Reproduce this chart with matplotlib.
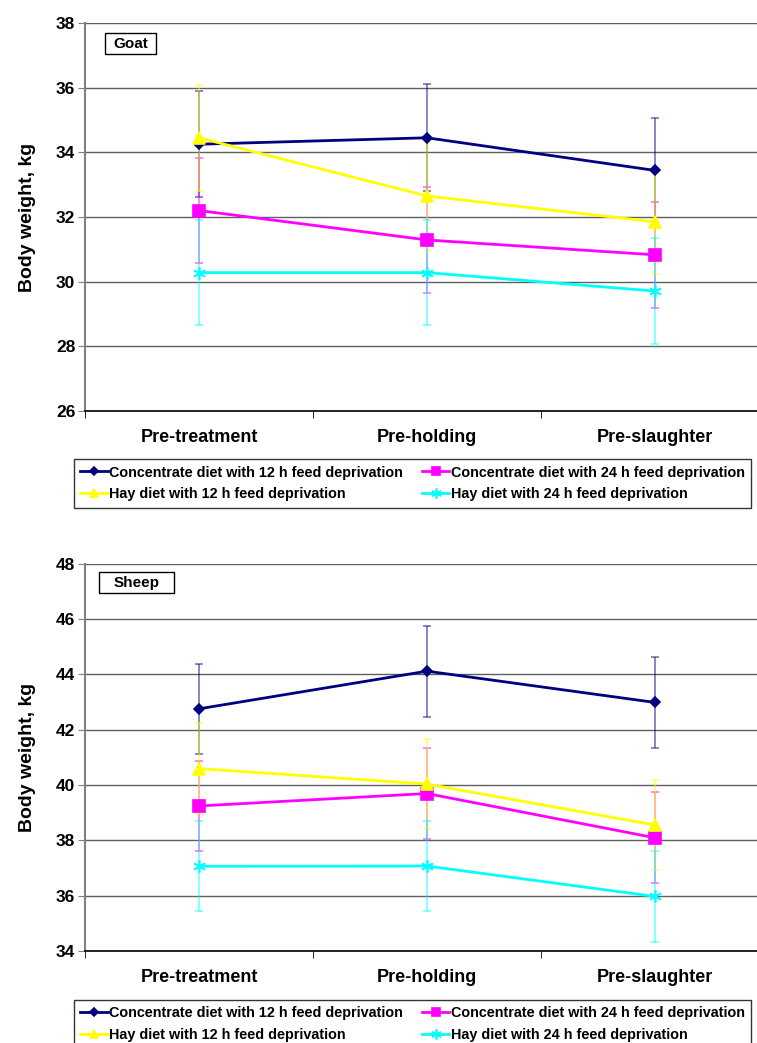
import matplotlib.pyplot as plt
from matplotlib.patches import Rectangle
import numpy as np

# data
stages = ['Pre-treatment', 'Pre-holding', 'Pre-slaughter']
series_names = ['Concentrate diet with 12 h feed deprivation',
                'Concentrate diet with 24 h feed deprivation',
                'Hay diet with 12 h feed deprivation',
                'Hay diet with 24 h feed deprivation']

goat_conc12 = [34.25, 34.45, 33.44]
goat_conc24 = [32.20, 31.29, 30.83]
goat_hay12 = [34.45, 32.65, 31.85]
goat_hay24 = [30.28, 30.28, 29.71]
goat_conc12_sd = [1.64, 1.65, 1.63]
goat_conc24_sd = [1.63, 1.64, 1.63]
goat_hay12_sd = [1.64, 1.66, 1.61]
goat_hay24_sd = [1.63, 1.63, 1.63]

sheep_conc12 = [42.75, 44.11, 42.98]
sheep_conc24 = [39.24, 39.69, 38.09]
sheep_hay12 = [40.59, 40.03, 38.55]
sheep_hay24 = [37.06, 37.07, 35.97]
sheep_conc12_sd = [1.63, 1.65, 1.64]
sheep_conc24_sd = [1.64, 1.65, 1.64]
sheep_hay12_sd = [1.64, 1.64, 1.63]
sheep_hay24_sd = [1.63, 1.64, 1.64]

colors = ['#000080', '#ff00ff', '#ffff00', '#00ffff']
markers = ['D', 's', '^', (6, 2, 0)]
msizes = [5, 8, 8, 9]

W, H = 757, 1043
fig = plt.figure(figsize=(W / 100, H / 100), dpi=100)
plt.rcParams['font.family'] = ['Liberation Sans', 'DejaVu Sans']


def panel(rect, means, sds, ylim, title, box_px, leg_y):
    ax = fig.add_axes(rect)
    x = np.arange(len(stages))
    handles = []
    for i in range(4):
        ax.errorbar(x, means[i], yerr=sds[i], fmt='none', ecolor=colors[i],
                    alpha=0.55, elinewidth=1.2, capsize=3, capthick=1.2, zorder=2)
    for i in range(4):
        h, = ax.plot(x, means[i], color=colors[i], lw=2, marker=markers[i],
                     ms=msizes[i], mec=colors[i], mew=1.2, zorder=3,
                     label=series_names[i])
        handles.append(h)
    ax.set_xlim(-0.5, 2.5)
    ax.set_ylim(*ylim)
    ax.set_yticks(np.arange(ylim[0], ylim[1] + 0.1, 2))
    ax.yaxis.grid(True, color='#606060', lw=1)
    ax.set_axisbelow(True)
    ax.set_xticks(x)
    ax.set_xticklabels(stages, fontsize=13, fontweight='bold')
    ax.set_xticks([-0.5, 0.5, 1.5, 2.5], minor=True)
    ax.tick_params(axis='x', which='major', length=0, pad=13)
    ax.tick_params(axis='x', which='minor', length=5, direction='out', color='black')
    ax.tick_params(axis='y', length=5, direction='out', color='#808080',
                   labelsize=12.5, pad=2)
    for lab in ax.get_yticklabels():
        lab.set_fontweight('bold')
    ax.spines['top'].set_visible(False)
    ax.spines['right'].set_visible(False)
    ax.spines['left'].set_color('#808080')
    ax.spines['left'].set_linewidth(1.5)
    ax.spines['bottom'].set_color('black')
    ax.spines['bottom'].set_linewidth(1.2)
    ax.set_ylabel('Body weight, kg', fontsize=14, fontweight='bold', labelpad=14)

    # label box in the corner
    x0, y0, x1, y1 = box_px
    fig.patches.append(Rectangle((x0 / W, 1 - y1 / H), (x1 - x0) / W, (y1 - y0) / H,
                                 transform=fig.transFigure, fc='white', ec='black',
                                 lw=1, zorder=5))
    fig.text((x0 + x1) / 2 / W, 1 - (y0 + y1) / 2 / H, title, fontsize=11,
             fontweight='bold', ha='center', va='center', zorder=6)

    # row-wise legend order like the original
    order = [0, 2, 1, 3]
    leg = fig.legend(handles=[handles[k] for k in order], loc='upper center',
                     bbox_to_anchor=(0.545, leg_y), ncol=2,
                     prop={'weight': 'bold', 'size': 10.4}, frameon=True,
                     fancybox=False, edgecolor='black', handlelength=1.9,
                     handletextpad=0.1, columnspacing=1.3, borderpad=0.45,
                     labelspacing=0.55, borderaxespad=0)
    leg.get_frame().set_linewidth(1)
    for lh in leg.legend_handles:
        lh.set_markersize(lh.get_markersize() * 0.8)
    return ax


left = 85 / W
width = 684 / W
panel([left, 1 - 411 / H, width, 388 / H],
      [goat_conc12, goat_conc24, goat_hay12, goat_hay24],
      [goat_conc12_sd, goat_conc24_sd, goat_hay12_sd, goat_hay24_sd],
      (26, 38), 'Goat', (105, 33, 156, 54), 1 - 459 / H)
panel([left, 1 - 951 / H, width, 387.5 / H],
      [sheep_conc12, sheep_conc24, sheep_hay12, sheep_hay24],
      [sheep_conc12_sd, sheep_conc24_sd, sheep_hay12_sd, sheep_hay24_sd],
      (34, 48), 'Sheep', (99, 572, 174, 593), 1 - 1000 / H)

fig.savefig('out.png', dpi=100)
